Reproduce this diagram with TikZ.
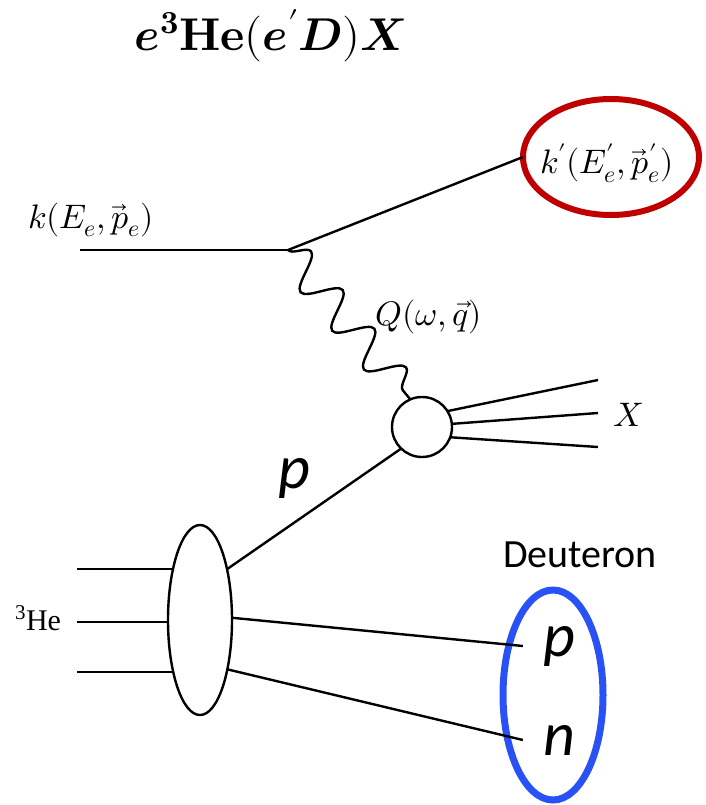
\documentclass[tikz,border=0pt]{standalone}
\usepackage{amsmath}
\usepackage{fontspec}
\usepackage{unicode-math}
\setmathfont{Latin Modern Math}
\newfontfamily\calibri{Carlito}
\newfontfamily\timesfont{Liberation Serif}
\usetikzlibrary{shapes.geometric,decorations.pathmorphing,backgrounds}

\definecolor{ringred}{RGB}{192,0,0}
\definecolor{ringblue}{RGB}{40,82,245}

\begin{document}
\begin{tikzpicture}[
  x=1pt, y=-1pt,
  line/.style={line width=2.4pt},
  photon/.style={line, decorate, decoration={snake, segment length=50pt, amplitude=17pt}},
  lbl/.style={font=\fontsize{34}{38}\selectfont, inner sep=0pt},
  cal/.style={font=\calibri\fontsize{40}{44}\selectfont, inner sep=0pt},
  big/.style={font=\calibri\itshape\fontsize{62}{66}\selectfont, inner sep=0pt},
  blob/.style={draw, line width=2.4pt, fill=white, inner sep=0pt, outer sep=0pt}
]
  \useasboundingbox (0,0) rectangle (705,805);

  % title
  \node[font=\fontsize{46}{50}\selectfont, inner sep=0pt] (title) at (270,36)
    {$\symbfit{e}^{\symbf{3}}\symbf{He}(\symbfit{e}'\symbfit{D})\symbfit{X}$};

  % electron side
  \coordinate (kin) at (80,250);
  \coordinate (vtx) at (288,250);
  \node[lbl] (klab) at (91,220) {$k(E_e,\vec{p}_e)$};
  \node[draw=ringred, ellipse, line width=6pt, minimum width=176pt, minimum height=116pt,
        inner sep=0pt, outer sep=0pt] (kout) at (611,157) {};
  \node[lbl] (koutlab) at (607,163) {$k'(E'_e,\vec{p}'_e)$};
  \draw[line] (kin) -- (vtx);
  \draw[line] (vtx) -- (kout.west);

  % virtual photon and hadronic blob
  \node[blob, circle, minimum size=60pt] (had) at (422,427) {};
  \draw[photon] (vtx) -- (had.113);
  \node[lbl] (qlab) at (429,317) {$Q(\omega,\vec{q})$};

  \coordinate (x1) at (598,380);
  \coordinate (x2) at (598,413);
  \coordinate (x3) at (598,447);
  \draw[line] (had.32) -- (x1);
  \draw[line] (had.6) -- (x2);
  \draw[line] (had.-20) -- (x3);
  \node[lbl] (xlab) at (628,415) {$X$};

  % 3He target
  \node[blob, ellipse, minimum width=64pt, minimum height=190pt] (he) at (200,620) {};
  \coordinate (in1) at (77,569);
  \coordinate (in2) at (77,622);
  \coordinate (in3) at (77,672);
  \begin{scope}[on background layer]
    \draw[line] (in1) -- (in1 -| he.center);
    \draw[line] (in2) -- (in2 -| he.center);
    \draw[line] (in3) -- (in3 -| he.center);
  \end{scope}
  \node[font=\timesfont\fontsize{30}{34}\selectfont, inner sep=0pt] (helab) at (38,618) {\textsuperscript{3}He};

  \draw[line] (he.62) -- (had.226);
  \node[big] (plab) at (294,478) {p};

  % deuteron
  \node[draw=ringblue, ellipse, line width=7pt, minimum width=100pt, minimum height=210pt,
        inner sep=0pt, outer sep=0pt] (deut) at (553,695) {};
  \node[cal] (dlab) at (580,555) {Deuteron};
  \node[big] (dp) at (559,646) {p};
  \node[big] (dn) at (559,740) {n};
  \draw[line] (he.4) -- ([xshift=-20pt]dp.west);
  \draw[line] (he.-61) -- ([xshift=-20pt]dn.west);
\end{tikzpicture}
\end{document}
